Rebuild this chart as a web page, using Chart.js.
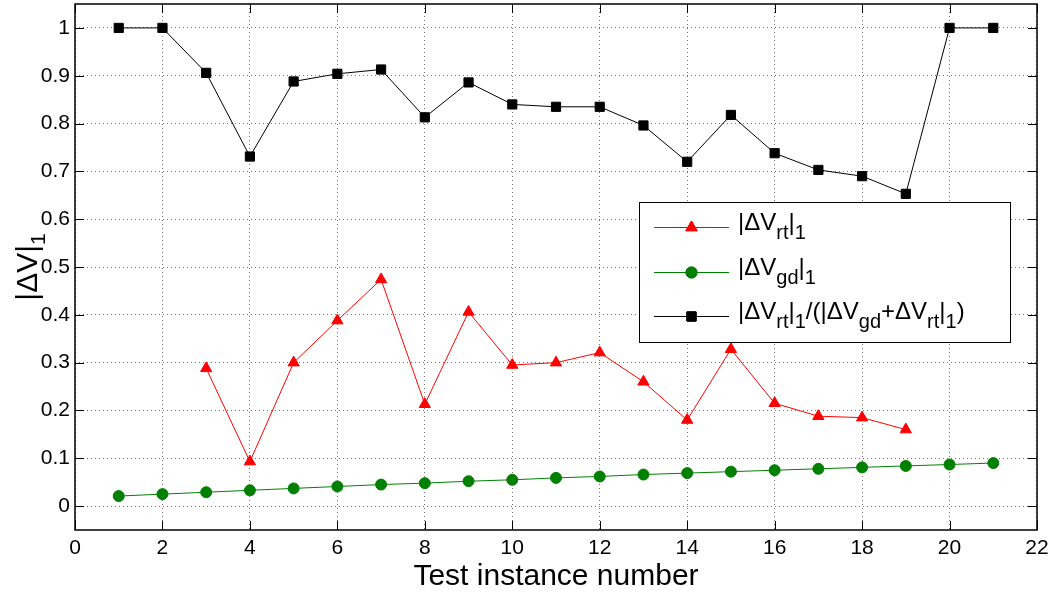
<!DOCTYPE html>
<html>
<head>
<meta charset="utf-8">
<script src="https://cdn.jsdelivr.net/npm/chart.js@4/dist/chart.umd.min.js"></script>
<style>
  html, body { margin: 0; padding: 0; background: #fff; }
  #wrap { width: 1051px; height: 594px; }
</style>
</head>
<body>
<div id="wrap"><canvas id="c" width="1051" height="594"></canvas></div>
<script>
// test instances 1..21 and the three series
const instances = [1, 2, 3, 4, 5, 6, 7, 8, 9, 10, 11, 12, 13, 14, 15, 16, 17, 18, 19, 20, 21];
const ratio = [1.000, 1.000, 0.906, 0.731, 0.888, 0.904, 0.913, 0.813, 0.886, 0.840, 0.835,
               0.835, 0.796, 0.720, 0.818, 0.738, 0.703, 0.690, 0.653, 1.000, 1.000];
const dvRt = [null, null, 0.288, 0.093, 0.300, 0.388, 0.474, 0.213, 0.406, 0.295, 0.300,
              0.321, 0.260, 0.180, 0.328, 0.215, 0.188, 0.185, 0.160, null, null];
const dvGd = [0.021, 0.025, 0.029, 0.033, 0.037, 0.041, 0.045, 0.048, 0.052, 0.055, 0.059,
              0.062, 0.066, 0.069, 0.072, 0.075, 0.078, 0.081, 0.084, 0.087, 0.090];

const xTicks = [0, 2, 4, 6, 8, 10, 12, 14, 16, 18, 20, 22];
const yTicks = [0, 0.1, 0.2, 0.3, 0.4, 0.5, 0.6, 0.7, 0.8, 0.9, 1];

// legend labels as [text, isSubscript] runs
const legendRt = [["|ΔV", 0], ["rt", 1], ["|", 0], ["1", 1]];
const legendGd = [["|ΔV", 0], ["gd", 1], ["|", 0], ["1", 1]];
const legendRatio = [["|ΔV", 0], ["rt", 1], ["|", 0], ["1", 1], ["/(|ΔV", 0], ["gd", 1],
                     ["+ΔV", 0], ["rt", 1], ["|", 0], ["1", 1], [")", 0]];
const yTitle = [["|ΔV|", 0], ["1", 1]];
const xTitle = "Test instance number";

const FONT = "'Liberation Sans', Arial, Helvetica, sans-serif";

function points(ys) {
  const out = [];
  ys.forEach((v, i) => { if (v != null) out.push({ x: instances[i], y: v }); });
  return out;
}

const dsRt = {
  label: "rt", data: points(dvRt),
  borderColor: "#ff0000", backgroundColor: "#ff0000", borderWidth: 1,
  pointStyle: "triangle", pointRadius: 6.5, pointBorderWidth: 1,
  legendRuns: legendRt,
};
const dsGd = {
  label: "gd", data: points(dvGd),
  borderColor: "#008000", backgroundColor: "#008000", borderWidth: 1,
  pointStyle: "circle", pointRadius: 5.5, pointBorderWidth: 1,
  legendRuns: legendGd,
};
const dsRatio = {
  label: "ratio", data: points(ratio),
  borderColor: "#000000", backgroundColor: "#000000", borderWidth: 1,
  pointStyle: "rect", pointRadius: 6.5, pointBorderWidth: 1,
  legendRuns: legendRatio,
};

function measureRuns(ctx, runs, size, subSize) {
  let w = 0;
  for (const [t, sub] of runs) {
    ctx.font = `${sub ? subSize : size}px ${FONT}`;
    w += ctx.measureText(t).width;
  }
  return w;
}
function drawRuns(ctx, runs, x, y, size, subSize, subDy) {
  ctx.fillStyle = "#000";
  ctx.textBaseline = "alphabetic";
  ctx.textAlign = "left";
  for (const [t, sub] of runs) {
    ctx.font = `${sub ? subSize : size}px ${FONT}`;
    ctx.fillText(t, x, sub ? y + subDy : y);
    x += ctx.measureText(t).width;
  }
}

const frame = {
  id: "frame",
  afterDraw(chart) {
    const { ctx } = chart;
    const xs = chart.scales.x, ys = chart.scales.y;
    const left = xs.left, right = xs.right, top = ys.top, bottom = ys.bottom;
    ctx.save();
    // inward tick marks on all four sides
    ctx.strokeStyle = "#000";
    ctx.lineWidth = 1;
    ctx.beginPath();
    for (const v of xTicks) {
      const px = Math.round(xs.getPixelForValue(v)) + 0.5;
      ctx.moveTo(px, bottom); ctx.lineTo(px, bottom - 9);
      ctx.moveTo(px, top); ctx.lineTo(px, top + 9);
    }
    for (const v of yTicks) {
      const py = Math.round(ys.getPixelForValue(v)) + 0.5;
      ctx.moveTo(left, py); ctx.lineTo(left + 9, py);
      ctx.moveTo(right, py); ctx.lineTo(right - 9, py);
    }
    ctx.stroke();
    ctx.lineWidth = 1.5;
    ctx.strokeRect(left, top, right - left, bottom - top);

    // axis titles
    ctx.fillStyle = "#000";
    ctx.font = `30px ${FONT}`;
    ctx.textAlign = "center";
    ctx.textBaseline = "alphabetic";
    ctx.fillText(xTitle, (left + right) / 2, 585);

    ctx.save();
    ctx.translate(37, (top + bottom) / 2);
    ctx.rotate(-Math.PI / 2);
    const tw = measureRuns(ctx, yTitle, 30, 21);
    drawRuns(ctx, yTitle, -tw / 2, 0, 30, 21, 8);
    ctx.restore();

    // legend box
    const L = { x: 639, y: 202, w: 371, h: 140 };
    ctx.fillStyle = "#fff";
    ctx.fillRect(L.x, L.y, L.w, L.h);
    ctx.lineWidth = 1;
    ctx.strokeStyle = "#000";
    ctx.strokeRect(L.x + 0.5, L.y + 0.5, L.w, L.h);
    const rows = [227, 272, 316];
    chart.data.datasets.forEach((ds, i) => {
      const ry = rows[i];
      ctx.strokeStyle = ds.borderColor;
      ctx.lineWidth = 1;
      ctx.beginPath();
      ctx.moveTo(654, ry + 0.5); ctx.lineTo(729, ry + 0.5);
      ctx.stroke();
      ctx.fillStyle = ds.backgroundColor;
      Chart.helpers.drawPoint(ctx, {
        pointStyle: ds.pointStyle, radius: ds.pointRadius, borderWidth: ds.pointBorderWidth, rotation: 0,
      }, 691.5, ry + 0.5);
      ctx.fill();
      ctx.stroke();
      drawRuns(ctx, ds.legendRuns, 738, ry + 3, 24, 20, 9);
    });
    ctx.restore();
  },
};

new Chart(document.getElementById("c"), {
  type: "line",
  data: { datasets: [dsRt, dsGd, dsRatio] },
  options: {
    responsive: false,
    animation: false,
    devicePixelRatio: 1,
    layout: { autoPadding: false, padding: { top: 4, right: 14, left: 0, bottom: 0 } },
    plugins: { legend: { display: false }, tooltip: { enabled: false } },
    scales: {
      x: {
        type: "linear", min: 0, max: 22,
        afterBuildTicks: (s) => { s.ticks = xTicks.map((v) => ({ value: v })); },
        afterFit: (s) => { s.height = 64; s.paddingLeft = 0; s.paddingRight = 0; },
        ticks: { color: "#000", font: { family: FONT, size: 21 }, padding: 6, maxRotation: 0 },
        grid: { color: "rgba(0,0,0,0.55)", lineWidth: 1, drawTicks: false },
        border: { display: false, dash: [1, 3] },
      },
      y: {
        type: "linear", min: -0.05, max: 1.05,
        afterBuildTicks: (s) => { s.ticks = yTicks.map((v) => ({ value: v })); },
        afterFit: (s) => { s.width = 75; s.paddingTop = 0; s.paddingBottom = 0; },
        ticks: {
          color: "#000", font: { family: FONT, size: 21 }, padding: 5,
          callback: (v) => String(Math.round(v * 10) / 10),
        },
        grid: { color: "rgba(0,0,0,0.55)", lineWidth: 1, drawTicks: false },
        border: { display: false, dash: [1, 3] },
      },
    },
  },
  plugins: [frame],
});
</script>
</body>
</html>
